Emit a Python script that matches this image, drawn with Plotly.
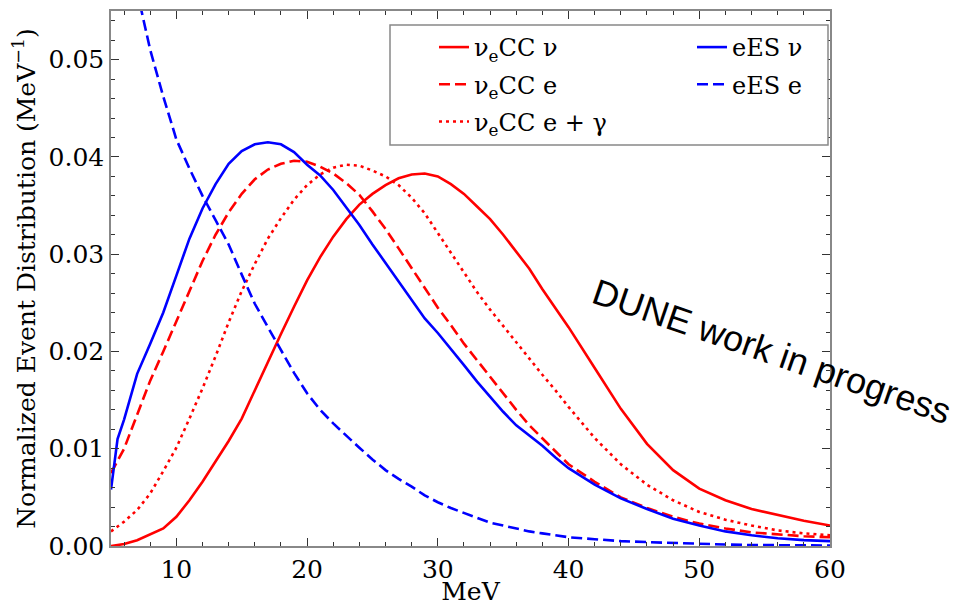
import plotly.graph_objects as go

# ---- data ----
mev = [5, 6, 7, 8, 9, 10, 11, 12, 13, 14, 15, 16, 17, 18, 19, 20, 21, 22, 23, 24,
       25, 26, 27, 28, 29, 30, 31, 32, 33, 34, 35, 36, 37, 38, 39, 40,
       42, 44, 46, 48, 50, 52, 54, 56, 58, 60]

nue_cc_nu = [0.0000, 0.0002, 0.0006, 0.0012, 0.0018, 0.0030, 0.0047, 0.0066, 0.0087, 0.0108,
             0.0131, 0.0160, 0.0190, 0.0218, 0.0246, 0.0273, 0.0297, 0.0318, 0.0336, 0.0351,
             0.0362, 0.0371, 0.0378, 0.0382, 0.0383, 0.0380, 0.0372, 0.0362, 0.0349, 0.0336,
             0.0320, 0.0302, 0.0285, 0.0264, 0.0244, 0.0225,
             0.0183, 0.0141, 0.0105, 0.0078, 0.0059, 0.0047, 0.0038, 0.0032, 0.0026, 0.0021]

nue_cc_e = [0.0075, 0.0100, 0.0135, 0.0170, 0.0200, 0.0231, 0.0262, 0.0293, 0.0320, 0.0343,
            0.0362, 0.0377, 0.0387, 0.0393, 0.0396, 0.0395, 0.0390, 0.0383, 0.0373, 0.0361,
            0.0344, 0.0326, 0.0306, 0.0286, 0.0265, 0.0245, 0.0227, 0.0208, 0.0191, 0.0174,
            0.0156, 0.0140, 0.0124, 0.0111, 0.0097, 0.0084,
            0.0066, 0.0050, 0.0039, 0.0030, 0.0023, 0.0018, 0.0014, 0.0012, 0.0010, 0.0009]

nue_cc_eg = [0.0015, 0.0025, 0.0037, 0.0054, 0.0077, 0.0101, 0.0131, 0.0162, 0.0195, 0.0230,
             0.0262, 0.0290, 0.0316, 0.0337, 0.0356, 0.0371, 0.0382, 0.0389, 0.0392, 0.0391,
             0.0386, 0.0380, 0.0371, 0.0358, 0.0342, 0.0322, 0.0301, 0.0281, 0.0261, 0.0243,
             0.0226, 0.0209, 0.0192, 0.0176, 0.0160, 0.0143,
             0.0111, 0.0084, 0.0063, 0.0047, 0.0035, 0.0027, 0.0021, 0.0016, 0.0013, 0.0011]

ees_nu_x = [5, 5.5] + mev[1:]
ees_nu = [0.0058, 0.0110, 0.0130, 0.0177, 0.0208, 0.0240, 0.0278, 0.0316, 0.0347, 0.0372, 0.0393,
          0.0406, 0.0413, 0.0415, 0.0413, 0.0405, 0.0392, 0.0381, 0.0366, 0.0348, 0.0330,
          0.0310, 0.0291, 0.0272, 0.0252, 0.0234, 0.0219, 0.0203, 0.0186, 0.0169, 0.0153,
          0.0138, 0.0124, 0.0113, 0.0103, 0.0091, 0.0080,
          0.0063, 0.0049, 0.0038, 0.0028, 0.0021, 0.0015, 0.0011, 0.0008, 0.0006, 0.0005]

ees_e = [0.0685, 0.0625, 0.0570, 0.0510, 0.0462, 0.0418, 0.0388, 0.0360, 0.0335, 0.0310,
         0.0279, 0.0249, 0.0225, 0.0202, 0.0178, 0.0157, 0.0140, 0.0126, 0.0113, 0.0101,
         0.0089, 0.0078, 0.0069, 0.0061, 0.0052, 0.0045, 0.0039, 0.0034, 0.0029, 0.0024,
         0.0021, 0.0018, 0.0015, 0.0013, 0.0011, 0.0009,
         0.0007, 0.0005, 0.0004, 0.0003, 0.0002, 0.00015, 0.0001, 0.0001, 0.00005, 0.00005]

labels = {
    "cc_nu": "ν<sub>e</sub>CC ν",
    "cc_e": "ν<sub>e</sub>CC e",
    "cc_eg": "ν<sub>e</sub>CC e + γ",
    "es_nu": "eES ν",
    "es_e": "eES e",
}

RED = "#ff0000"
BLUE = "#0000ff"
LW = 2.6
DASH = "11px,5px"
DOT = "3px,4px"
SERIF = "DejaVu Serif"

fig = go.Figure()
fig.add_trace(go.Scatter(x=mev, y=nue_cc_nu, mode="lines", name=labels["cc_nu"],
                         line=dict(color=RED, width=LW), legend="legend", legendgroup="a"))
fig.add_trace(go.Scatter(x=mev, y=nue_cc_e, mode="lines", name=labels["cc_e"],
                         line=dict(color=RED, width=LW, dash=DASH), legend="legend", legendgroup="b"))
fig.add_trace(go.Scatter(x=mev, y=nue_cc_eg, mode="lines", name=labels["cc_eg"],
                         line=dict(color=RED, width=LW, dash=DOT), legend="legend", legendgroup="c"))
fig.add_trace(go.Scatter(x=ees_nu_x, y=ees_nu, mode="lines", name=labels["es_nu"],
                         line=dict(color=BLUE, width=LW), legend="legend2", legendgroup="d"))
fig.add_trace(go.Scatter(x=mev, y=ees_e, mode="lines", name=labels["es_e"],
                         line=dict(color=BLUE, width=LW, dash=DASH), legend="legend2", legendgroup="e"))

W, H = 962, 606
ml, mr, mt, mb = 111, 132, 11, 60
pw, ph = W - ml - mr, H - mt - mb

def px2x(p):
    return (p - ml) / pw

def px2y(p):
    return (H - mb - p) / ph

axis_common = dict(
    showline=True, linecolor="#888888", linewidth=1.5, mirror="ticks",
    ticks="inside", ticklen=8, tickwidth=1, tickcolor="#333333",
    showgrid=False, zeroline=False,
    tickfont=dict(family=SERIF, size=25, color="black"),
)

fig.update_layout(
    width=W, height=H,
    margin=dict(l=ml, r=mr, t=mt, b=mb, autoexpand=False),
    paper_bgcolor="white", plot_bgcolor="white",
    xaxis=dict(range=[5, 60], tick0=0, dtick=10, automargin=True,
               minor=dict(ticks="inside", dtick=2, tick0=0, ticklen=4, tickcolor="#333333"),
               title=dict(text="MeV", font=dict(family=SERIF, size=25, color="black"), standoff=3),
               **axis_common),
    yaxis=dict(range=[0, 0.055], tick0=0, dtick=0.01, tickformat=".2f", automargin=True,
               minor=dict(ticks="inside", dtick=0.002, tick0=0, ticklen=4, tickcolor="#333333"),
               title=dict(text="Normalized Event Distribution (MeV<sup>−1</sup>)",
                          font=dict(family=SERIF, size=25, color="black"), standoff=6),
               **axis_common),
    legend=dict(x=px2x(434), y=px2y(25), xanchor="left", yanchor="top",
                bgcolor="rgba(0,0,0,0)", borderwidth=0, tracegroupgap=3,
                font=dict(family=SERIF, size=24, color="black")),
    legend2=dict(x=px2x(692), y=px2y(25), xanchor="left", yanchor="top",
                 bgcolor="rgba(0,0,0,0)", borderwidth=0, tracegroupgap=3,
                 font=dict(family=SERIF, size=24, color="black")),
    shapes=[dict(type="rect", xref="paper", yref="paper",
                 x0=px2x(390), x1=px2x(828), y0=px2y(145), y1=px2y(25),
                 line=dict(color="#888888", width=1.5), fillcolor="white", layer="above")],
    annotations=[dict(text="DUNE work in progress", xref="paper", yref="paper",
                      x=px2x(772), y=px2y(351), xanchor="center", yanchor="middle",
                      showarrow=False, textangle=19,
                      font=dict(family="Liberation Sans", size=36, color="black"))],
    showlegend=True,
)

fig.write_html("out.html")
